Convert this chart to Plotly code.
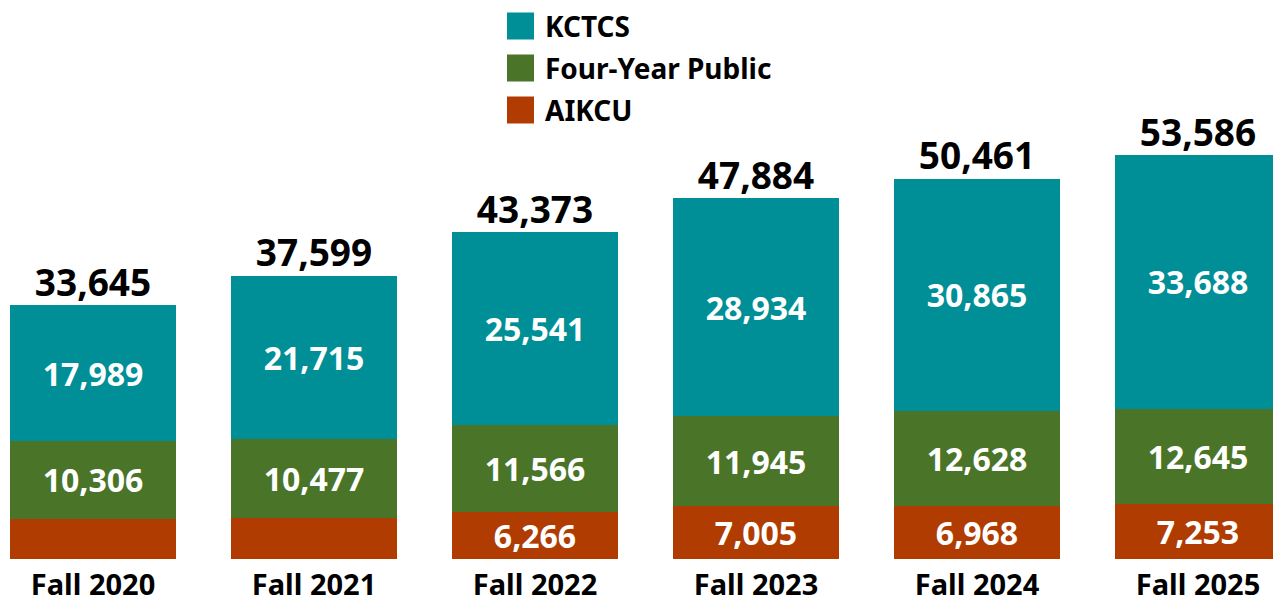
import plotly.graph_objects as go

categories = ["Fall 2020", "Fall 2021", "Fall 2022", "Fall 2023", "Fall 2024", "Fall 2025"]
kctcs = [17989, 21715, 25541, 28934, 30865, 33688]
four_year = [10306, 10477, 11566, 11945, 12628, 12645]
aikcu = [5350, 5407, 6266, 7005, 6968, 7253]
totals = [33645, 37599, 43373, 47884, 50461, 53586]
aikcu_show = [False, False, True, True, True, True]

C_K = "#008F96"
C_F = "#4A7427"
C_A = "#B03C02"
FONT = "Noto Sans"

def fmt(v):
    return f"{v:,}"

x = list(range(len(categories)))
fig = go.Figure()
series = [
    ("AIKCU", aikcu, C_A, [fmt(v) if s else "" for v, s in zip(aikcu, aikcu_show)]),
    ("Four-Year Public", four_year, C_F, [fmt(v) for v in four_year]),
    ("KCTCS", kctcs, C_K, [fmt(v) for v in kctcs]),
]
for name, vals, col, txt in series:
    fig.add_trace(go.Bar(
        x=x, y=vals, name=name, marker=dict(color=col, line=dict(width=0)),
        text=txt, textposition="inside", insidetextanchor="middle", textangle=0,
        constraintext="none",
        textfont=dict(family=FONT, size=32, color="white", weight="bold"),
        showlegend=False, hoverinfo="skip",
    ))

fig.add_trace(go.Scatter(
    x=x, y=totals, mode="text", text=[fmt(v) for v in totals],
    textposition="top center",
    textfont=dict(family=FONT, size=37, color="black", weight="bold"),
    showlegend=False, hoverinfo="skip",
))

PH = 551.0  # plot-area height in px (page has an 8px body offset)
legend_items = [("KCTCS", C_K), ("Four-Year Public", C_F), ("AIKCU", C_A)]
for i, (lab, col) in enumerate(legend_items):
    yc = 18 + i * 42
    fig.add_shape(type="rect", xref="paper", yref="paper",
                  x0=499 / 1281, x1=526 / 1281,
                  y0=1 - (yc + 13.5) / PH, y1=1 - (yc - 13.5) / PH,
                  fillcolor=col, line=dict(width=0))
    fig.add_annotation(xref="paper", yref="paper", x=535 / 1281, y=1 - yc / PH,
                       text=lab, showarrow=False, xanchor="left", yanchor="middle",
                       font=dict(family=FONT, size=28, color="black", weight="bold"))

fig.update_layout(
    width=1281, height=604,
    margin=dict(l=0, r=0, t=0, b=53),
    plot_bgcolor="white", paper_bgcolor="white",
    barmode="stack", bargap=0.249,
    xaxis=dict(range=[-85 / 221, 1196 / 221], tickmode="array", tickvals=x, ticktext=categories,
               showgrid=False, zeroline=False, showline=False, ticks="",
               ticklabelstandoff=6,
               tickfont=dict(family=FONT, size=29, color="black", weight="bold")),
    yaxis=dict(range=[0, PH / 0.00754], visible=False, showgrid=False, zeroline=False),
)

fig.write_html("out.html")
